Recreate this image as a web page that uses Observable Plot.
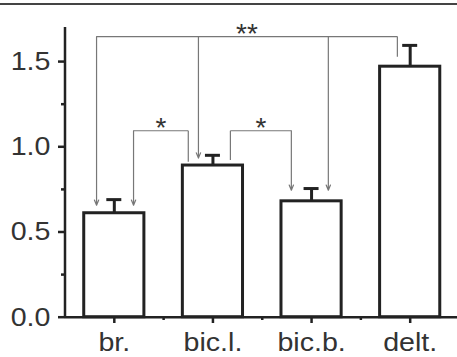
<!DOCTYPE html>
<html>
<head>
<meta charset="utf-8">
<script src="https://cdn.jsdelivr.net/npm/d3@7"></script>
<script src="https://cdn.jsdelivr.net/npm/@observablehq/plot@0.6"></script>
<style>
  html, body { margin: 0; padding: 0; background: #fff; }
  #wrap { position: relative; width: 457px; height: 357px; overflow: hidden; }
  #topline { position: absolute; left: 0; top: 3px; width: 457px; height: 0; border-top: 2px solid #444; }
  svg { font-family: "Liberation Sans", Arial, sans-serif; }
</style>
</head>
<body>
<div id="wrap"><div id="topline"></div></div>
<script>
// ---- data ----
const categories = ["br.", "bic.l.", "bic.b.", "delt."];
const means = [0.61, 0.89, 0.68, 1.47];
const errors = [0.08, 0.06, 0.075, 0.125];
const yTicks = [0, 0.5, 1.0, 1.5];
const yMinorTicks = [0.25, 0.75, 1.25];
const xMinorTicks = [0.5, 1.5, 2.5];

// significance brackets (x in category-index units, y in data units)
const bracketX1 = [-0.18, 0.195, 1.177];
const bracketX2 = [2.87, 0.75, 1.795];
const bracketY = [1.647, 1.094, 1.094];
const bracketLabels = ["**", "*", "*"];

// drops from brackets: with arrowheads
const arrowX = [-0.18, 0.853, 2.17, 0.195, 1.795];
const arrowFrom = [1.647, 1.647, 1.647, 1.094, 1.094];
const arrowTo = [0.657, 0.934, 0.745, 0.657, 0.745];
// drops without arrowheads
const stubX = [2.87, 0.75, 1.177];
const stubFrom = [1.647, 1.094, 1.094];
const stubTo = [1.528, 0.912, 0.922];

// ---- tables ----
const bars = categories.map((c, i) => ({i, c, mean: means[i], top: means[i] + errors[i]}));
const brackets = bracketX1.map((x1, k) => ({x1, x2: bracketX2[k], y: bracketY[k], label: bracketLabels[k], mid: (x1 + bracketX2[k]) / 2}));
const arrows = arrowX.map((x, k) => ({x, y1: arrowFrom[k], y2: arrowTo[k]}));
const stubs = stubX.map((x, k) => ({x, y1: stubFrom[k], y2: stubTo[k]}));

const axisColor = "#222";
const gray = "#777";
const textColor = "#333";

const chart = Plot.plot({
  width: 457,
  height: 357,
  marginTop: 27,
  marginBottom: 40,
  marginLeft: 64,
  marginRight: 0,
  style: {fontFamily: "'Liberation Sans', Arial, sans-serif", background: "transparent", overflow: "visible"},
  x: {type: "linear", domain: [-0.5, 3.5], range: [64.5, 459], axis: null},
  y: {domain: [0, 1.7], range: [316.7, 27], axis: null},
  marks: [
    // brackets
    Plot.link(brackets, {x1: "x1", x2: "x2", y1: "y", y2: "y", stroke: gray, strokeWidth: 1.2}),
    Plot.link(stubs, {x1: "x", x2: "x", y1: "y1", y2: "y2", stroke: gray, strokeWidth: 1.2}),
    Plot.arrow(arrows, {x1: "x", x2: "x", y1: "y1", y2: "y2", stroke: gray, strokeWidth: 1.2, headLength: 7, headAngle: 45}),
    Plot.text(brackets, {x: "mid", y: "y", text: "label", fontSize: 28, fill: "#333", lineAnchor: "middle", dy: -3}),
    // bars
    Plot.rectY(bars, {x1: d => d.i - 0.305, x2: d => d.i + 0.305, y: "mean", fill: "white", stroke: axisColor, strokeWidth: 3}),
    // error bars
    Plot.ruleX(bars, {x: "i", y1: "mean", y2: "top", stroke: axisColor, strokeWidth: 3}),
    Plot.ruleY(bars, {y: "top", x1: d => d.i - 0.076, x2: d => d.i + 0.076, stroke: axisColor, strokeWidth: 3}),
    // axes
    Plot.axisY({ticks: yTicks, tickSize: 6, tickPadding: 8, tickFormat: d3.format(".1f"), fontSize: 26, color: textColor, stroke: axisColor, strokeWidth: 2.5, label: null}),
    Plot.axisY({ticks: yMinorTicks, tickSize: 3, tickFormat: () => "", stroke: axisColor, strokeWidth: 2.5, label: null}),
    Plot.axisX({ticks: d3.range(categories.length), tickSize: 6, tickPadding: 9, tickFormat: i => categories[i], fontSize: 26, color: textColor, stroke: axisColor, strokeWidth: 2.5, label: null}),
    Plot.axisX({ticks: xMinorTicks, tickSize: 3, tickFormat: () => "", stroke: axisColor, strokeWidth: 2.5, label: null}),
    Plot.ruleX([-0.5], {stroke: axisColor, strokeWidth: 2.5}),
    Plot.ruleY([0], {stroke: axisColor, strokeWidth: 2.5})
  ]
});
document.getElementById("wrap").appendChild(chart);
// the reference typeface is slightly wider than Liberation Sans: stretch tick labels a little
chart.querySelectorAll('g[aria-label$="tick label"] text').forEach(t => {
  const L = t.getComputedTextLength();
  if (L > 0) {
    t.setAttribute("textLength", (L * 1.1).toFixed(1));
    t.setAttribute("lengthAdjust", "spacingAndGlyphs");
  }
});
</script>
</body>
</html>
